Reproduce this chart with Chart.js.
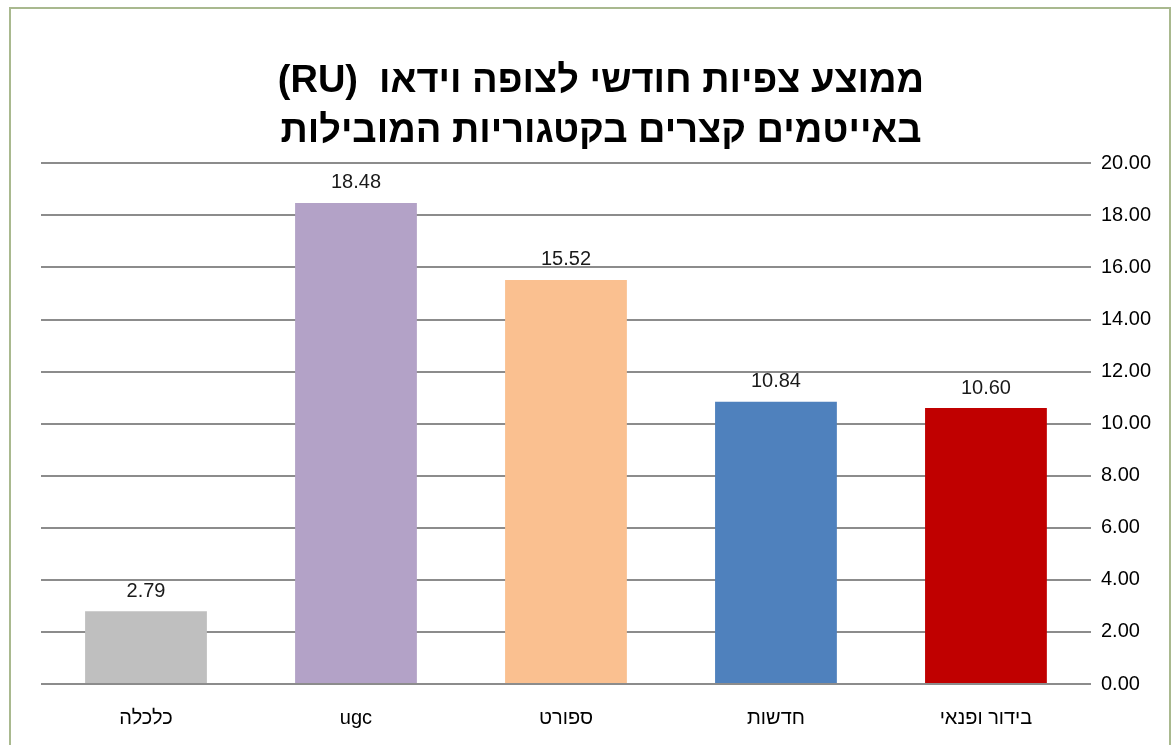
<!DOCTYPE html>
<html>
<head>
<meta charset="utf-8">
<script src="https://cdn.jsdelivr.net/npm/chart.js@4"></script>
<style>
  html, body { margin: 0; padding: 0; background: #fff; overflow: hidden; }
  #frame {
    position: absolute; left: 9px; top: 7px;
    width: 1158px; height: 760px;
    border: 2px solid #a9b98f;
    border-bottom: none;
  }
  #viewsChart { direction: rtl; display: block; }
</style>
</head>
<body>
<div id="frame">
  <canvas id="viewsChart" width="1158" height="760"></canvas>
</div>
<script>
// Average monthly views per RU, short items, top categories
const categories = ['בידור ופנאי', 'חדשות', 'ספורט', 'ugc', 'כלכלה'];
const avgViews = [10.60, 10.84, 15.52, 18.48, 2.79];
const barColors = ['#c00000', '#4f81bd', '#fac090', '#b3a2c7', '#bfbfbf'];
const yTicks = [0, 2, 4, 6, 8, 10, 12, 14, 16, 18, 20];

const fontFamily = '"Liberation Sans", Arial, sans-serif';

// simple value labels above the bars
const valueLabels = {
  id: 'valueLabels',
  afterDatasetsDraw(chart) {
    const ctx = chart.ctx;
    const meta = chart.getDatasetMeta(0);
    ctx.save();
    ctx.direction = 'ltr';
    ctx.font = '20px ' + fontFamily;
    ctx.fillStyle = '#1a1a1a';
    ctx.textAlign = 'center';
    ctx.textBaseline = 'bottom';
    meta.data.forEach((bar, i) => {
      ctx.fillText(avgViews[i].toFixed(2), bar.x, bar.y - 10);
    });
    ctx.restore();
  }
};

const viewsChart = new Chart(document.getElementById('viewsChart'), {
  type: 'bar',
  data: {
    labels: categories,
    datasets: [{
      data: avgViews,
      backgroundColor: barColors,
      categoryPercentage: 1,
      barPercentage: 0.58
    }]
  },
  options: {
    responsive: false,
    animation: false,
    layout: { padding: { left: 30, right: 8, top: 23, bottom: 17 } },
    plugins: {
      legend: { display: false },
      tooltip: { enabled: false },
      title: {
        display: true,
        text: ['ממוצע צפיות חודשי לצופה וידאו  (RU)', 'באייטמים קצרים בקטגוריות המובילות'],
        color: '#000',
        font: { family: fontFamily, size: 38, weight: 'bold', lineHeight: 1.32 },
        padding: { top: 24, bottom: 7 }
      }
    },
    scales: {
      x: {
        reverse: true,
        grid: { display: false, drawTicks: false },
        border: { display: false },
        ticks: {
          color: '#000',
          padding: 22,
          font: { family: fontFamily, size: 20 }
        }
      },
      y: {
        position: 'right',
        min: 0,
        max: 20,
        afterBuildTicks: axis => { axis.ticks = yTicks.map(v => ({ value: v })); },
        grid: { color: '#8c8c8c', lineWidth: 2, drawTicks: false },
        border: { display: false },
        ticks: {
          color: '#000',
          padding: 10,
          font: { family: fontFamily, size: 20 },
          callback: v => v.toFixed(2)
        }
      }
    }
  },
  plugins: [valueLabels]
});
</script>
</body>
</html>
